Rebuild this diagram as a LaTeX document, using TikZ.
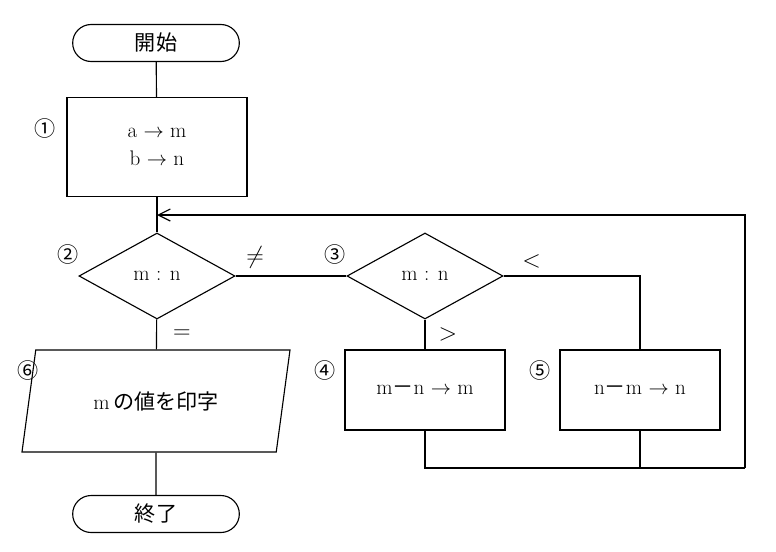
\documentclass[tikz,border=0pt]{standalone}
\usepackage{fontspec}
\newfontfamily\cjk{Noto Sans CJK JP}
\usetikzlibrary{shapes,shapes.geometric,arrows.meta,positioning}

\begin{document}
\begin{tikzpicture}[x=0.025cm,y=-0.025cm,line width=0.8pt,
    font=\fontsize{15}{18}\selectfont,
    term/.style={draw,rounded rectangle,minimum width=4.4cm,minimum height=0.925cm,align=center},
    proc/.style={draw,minimum width=4cm,minimum height=2cm,align=center},
    dec/.style={draw,diamond,aspect=1.8,minimum width=3.9cm,minimum height=2.15cm,inner sep=0pt},
    num/.style={font=\cjk\fontsize{15}{17}\selectfont},
    cond/.style={font=\fontsize{16}{18}\selectfont}]

\useasboundingbox (0,0) rectangle (776,552);

\node[term] (start) at (156,43) {\cjk 開始};

\node[draw,
    minimum width=4.5cm,
    minimum height=2.475cm,
    align=center
] (init) at (157,147) {a $\rightarrow$ m\\[2pt] b $\rightarrow$ n};

\node[dec] (cmp1) at (157,276) {m : n};
\node[dec] (cmp2) at (425,276) {m : n};

\node[proc] (subm) at (425,390) {m{\cjk －}n $\rightarrow$ m};
\node[proc] (subn) at (640,390) {n{\cjk －}m $\rightarrow$ n};

\node[draw,
    trapezium,
    trapezium left angle=75,
    trapezium right angle=105,
    trapezium stretches=true,
    minimum width=6.7cm,
    minimum height=2.55cm
] (print) at (156,401) {m\,{\cjk の値を印字}};

\node[term] (stop) at (156,514) {\cjk 終了};

% step numbers
\node[num] at (45,128) {①};
\node[num] at (68,254) {②};
\node[num] at (335,254) {③};
\node[num] at (325,370) {④};
\node[num] at (540,370) {⑤};
\node[num] at (28,370) {⑥};

\coordinate (loop) at (157,215);
\coordinate (back) at (745,468);

\draw (start) -- (init);
\draw (init) -- (cmp1);
\draw (cmp1) -- (print) node [pos=0.5,right=8pt,cond] {$=$};
\draw (cmp1) -- (cmp2) node [pos=0.05,above right=2pt and 0pt,cond] {$\neq$};
\draw (cmp2) -- (subm) node [pos=0.5,right=6pt,cond] {$>$};
\draw (cmp2.east) -| (subn) node [pos=0.05,above right=2pt and 0pt,cond] {$<$};
\draw (print) -- (stop);

\draw (subm) |- (back);
\draw (subn.south) -- (subn.south |- back);
\draw[-{Straight Barb[length=3mm,width=3mm]}] (back) |- (loop);

\end{tikzpicture}
\end{document}
